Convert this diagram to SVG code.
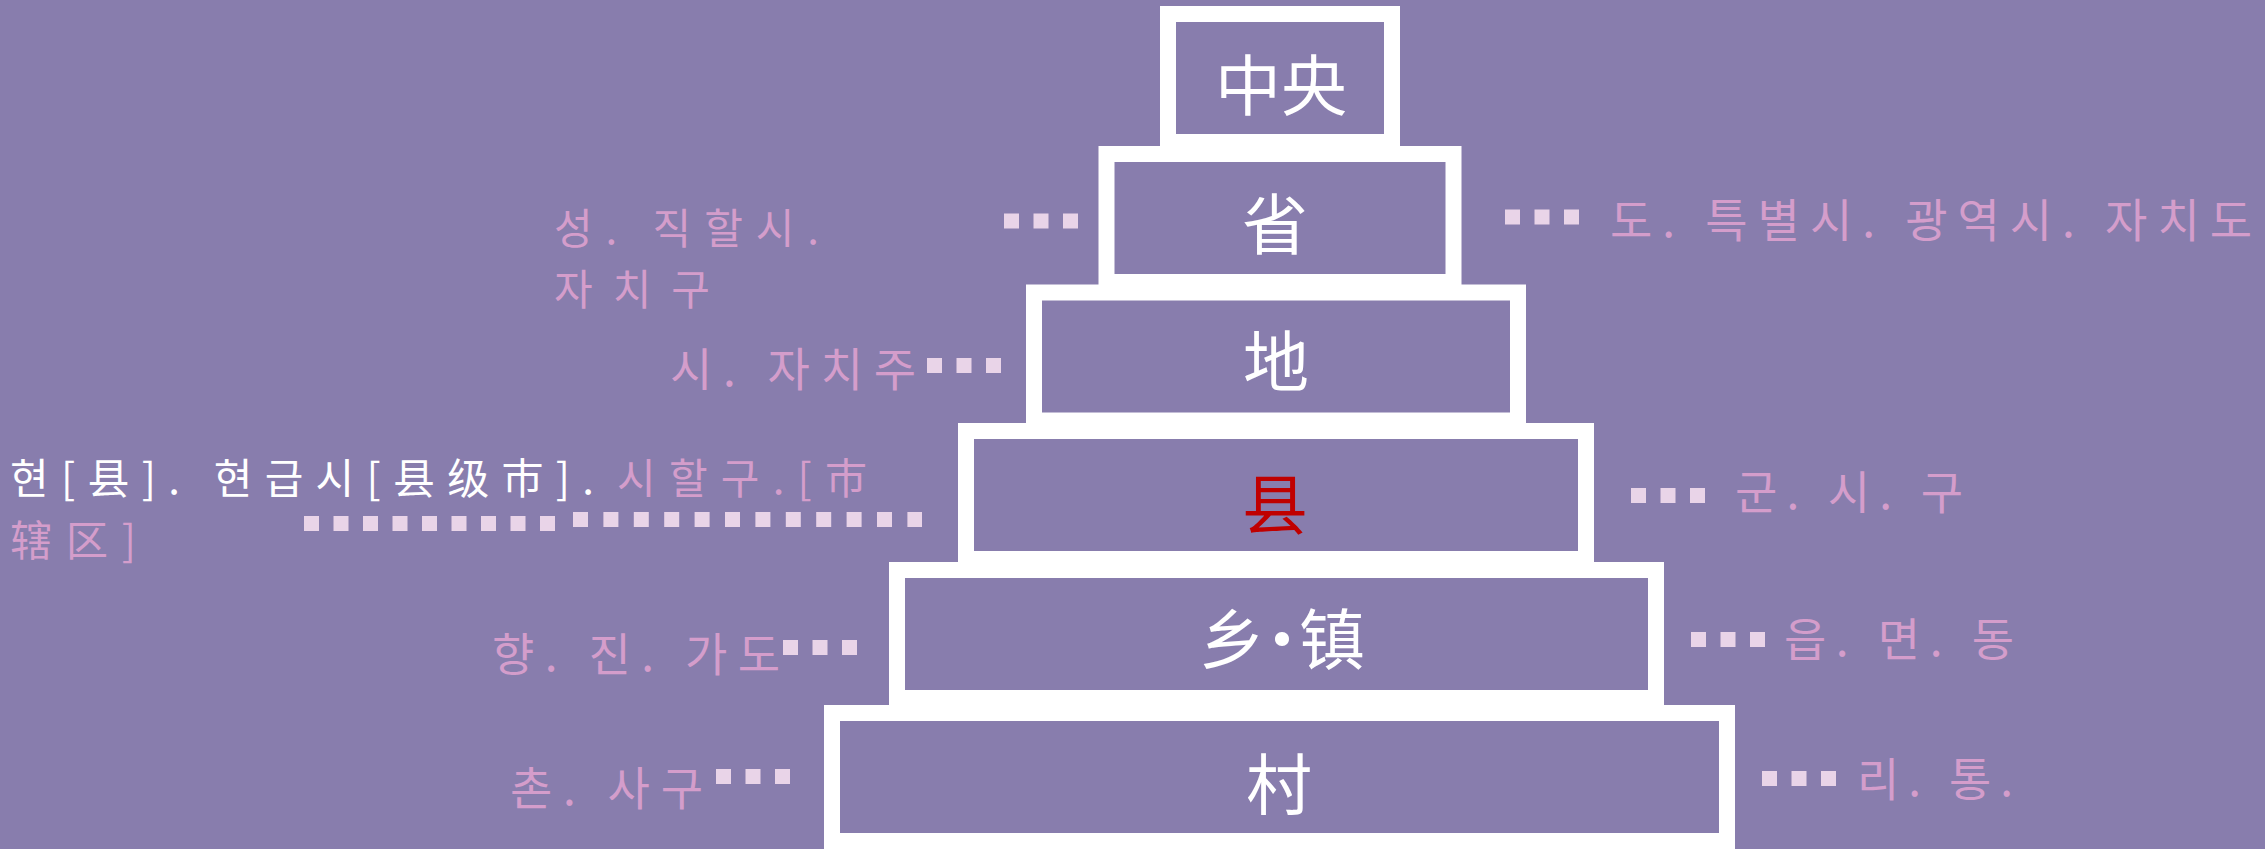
<svg xmlns="http://www.w3.org/2000/svg" width="2265" height="849" viewBox="0 0 2265 849">
<style>
.box{fill:#887dad;stroke:#ffffff;stroke-width:16}
.nl{font-family:"Noto Sans CJK SC","Noto Sans CJK JP",sans-serif;font-size:66px;fill:#ffffff;text-anchor:middle}
.lb{font-family:"Noto Sans CJK KR","Noto Sans CJK SC",sans-serif;font-size:46px;fill:#d49dcb}
.sm{font-size:42px}
.wh{fill:#ffffff}
.dots line{stroke:#e9d4e8;stroke-width:15;stroke-dasharray:15 14.5}
</style>
<rect width="2265" height="849" fill="#887dad"/>
<g id="node-zhongyang"><rect class="box" x="1168" y="14" width="224" height="128"/><text class="nl" x="1281" y="110">中央</text></g>
<g id="node-sheng"><rect class="box" x="1106.5" y="154" width="347" height="128"/><text class="nl" x="1275" y="249">省</text></g>
<g id="node-di"><rect class="box" x="1034" y="292.5" width="484" height="128"/><text class="nl" x="1276" y="386">地</text></g>
<g id="node-xian"><rect class="box" x="966" y="431" width="620" height="128"/><text class="nl" x="1275" y="529" style="fill:#c00000">县</text></g>
<g id="node-xiangzhen"><rect class="box" x="897" y="570" width="759" height="128"/><text class="nl" x="1282" y="664" textLength="166" lengthAdjust="spacing">乡·镇</text></g>
<g id="node-cun"><rect class="box" x="832" y="713" width="895" height="128"/><text class="nl" x="1279" y="809">村</text></g>
<g id="connectors" class="dots">
<line x1="1004" y1="221" x2="1078" y2="221"/>
<line x1="1505" y1="217" x2="1579" y2="217"/>
<line x1="927" y1="365.5" x2="1001" y2="365.5"/>
<line x1="304" y1="523.5" x2="555" y2="523.5"/>
<line x1="573" y1="519.5" x2="922" y2="519.5" style="stroke-dasharray:15 15.4"/>
<line x1="1631" y1="495.5" x2="1705" y2="495.5"/>
<line x1="783" y1="647.5" x2="857" y2="647.5"/>
<line x1="1691" y1="639.5" x2="1765" y2="639.5"/>
<line x1="716" y1="776.5" x2="790" y2="776.5"/>
<line x1="1762" y1="778.5" x2="1836" y2="778.5"/>
</g>
<g id="labels-left">
<text class="lb sm"><tspan x="554" y="244" textLength="265" lengthAdjust="spacing">성. 직할시.</tspan><tspan x="554" y="305" textLength="156" lengthAdjust="spacing">자치구</tspan></text>
<text class="lb" x="670" y="386" textLength="246" lengthAdjust="spacing">시. 자치주</text>
<text class="lb sm"><tspan class="wh" x="10" y="494" textLength="584" lengthAdjust="spacing">현[县]. 현급시[县级市].</tspan><tspan x="617" y="494" textLength="250" lengthAdjust="spacing">시할구.[市</tspan><tspan x="10" y="556" textLength="126" lengthAdjust="spacing">辖区]</tspan></text>
<text class="lb" x="492" y="671" textLength="288" lengthAdjust="spacing">향. 진. 가도</text>
<text class="lb" x="510" y="805" textLength="193" lengthAdjust="spacing">촌. 사구</text>
</g>
<g id="labels-right">
<text class="lb" x="1610" y="237" textLength="642" lengthAdjust="spacing">도. 특별시. 광역시. 자치도</text>
<text class="lb" x="1735" y="509" textLength="228" lengthAdjust="spacing">군. 시. 구</text>
<text class="lb" x="1784" y="656" textLength="230" lengthAdjust="spacing">읍. 면. 동</text>
<text class="lb" x="1857" y="796" textLength="156" lengthAdjust="spacing">리. 통.</text>
</g>
</svg>
